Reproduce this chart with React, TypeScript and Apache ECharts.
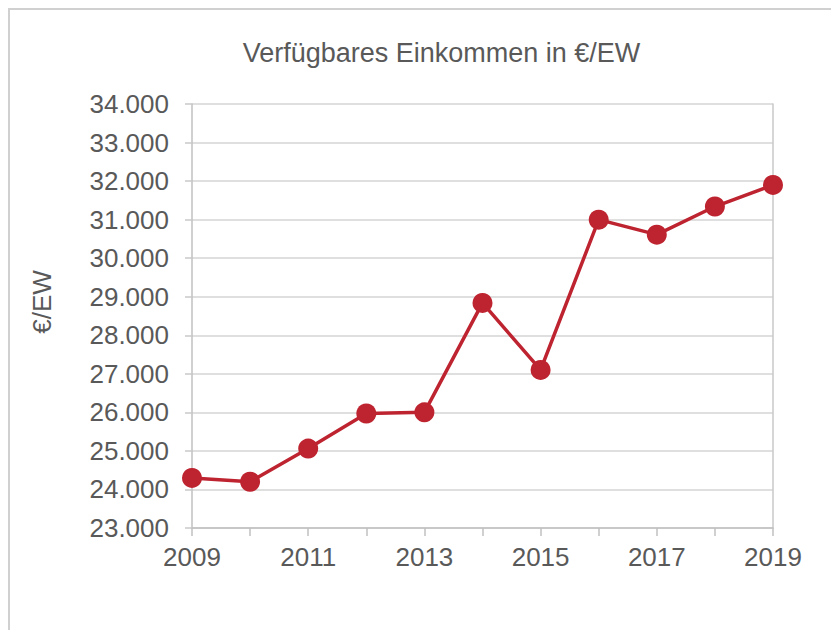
import React, { useEffect, useRef } from "react";
import * as echarts from "echarts";

const years = ["2009", "2010", "2011", "2012", "2013", "2014", "2015", "2016", "2017", "2018", "2019"];
const income = [24300, 24200, 25060, 25970, 26000, 28840, 27100, 31000, 30610, 31340, 31900];
const titleText = "Verfügbares Einkommen in €/EW";
const yName = "€/EW";

const FONT = "'Liberation Sans', Arial, sans-serif";
const TXT = "#595959";

export default function App() {
  const ref = useRef<HTMLDivElement>(null);
  useEffect(() => {
    if (!ref.current) return;
    const chart = echarts.init(ref.current, undefined, { renderer: "svg" });
    chart.setOption({
      animation: false,
      grid: { left: 184, top: 96, width: 581, height: 424 },
      graphic: [
        {
          type: "text",
          x: 433.5,
          y: 45,
          style: {
            text: titleText,
            fill: TXT,
            font: `27px ${FONT}`,
            textAlign: "center",
            textVerticalAlign: "middle",
          },
        },
        {
          type: "text",
          x: 34,
          y: 294,
          rotation: Math.PI / 2,
          style: {
            text: yName,
            fill: TXT,
            font: `26px ${FONT}`,
            textAlign: "center",
            textVerticalAlign: "middle",
          },
        },
      ],
      xAxis: {
        type: "category",
        data: years,
        boundaryGap: false,
        axisLine: { lineStyle: { color: "#c0c0c0", width: 1.5 } },
        axisTick: { show: true, length: 8, interval: 0, lineStyle: { color: "#c0c0c0", width: 1.5 } },
        axisLabel: {
          interval: 1,
          color: TXT,
          fontSize: 26,
          fontFamily: FONT,
          margin: 16,
        },
        splitLine: { show: false },
      },
      yAxis: [
        {
          type: "value",
          min: 23000,
          max: 34000,
          interval: 1000,
          axisLine: { show: true, lineStyle: { color: "#c0c0c0", width: 1.5 } },
          axisTick: { show: true, length: 7, lineStyle: { color: "#c8c8c8", width: 1.5 } },
          axisLabel: {
            color: TXT,
            fontSize: 26,
            fontFamily: FONT,
            margin: 23,
            formatter: (v: number) => (v / 1000).toFixed(3),
          },
          splitLine: { show: true, lineStyle: { color: "#d4d4d4", width: 1.5 } },
        },
        {
          type: "value",
          position: "right",
          min: 23000,
          max: 34000,
          interval: 1000,
          axisLine: { show: true, lineStyle: { color: "#c8c8c8", width: 1.5 } },
          axisTick: { show: false },
          axisLabel: { show: false },
          splitLine: { show: false },
        },
      ],
      series: [
        {
          type: "line",
          data: income,
          yAxisIndex: 0,
          symbol: "circle",
          symbolSize: 20,
          lineStyle: { color: "#BE2330", width: 3.5 },
          itemStyle: { color: "#BE2330" },
        },
      ],
    });
    return () => chart.dispose();
  }, []);
  return (
    <div
      style={{
        width: 831,
        height: 622,
        borderLeft: "2px solid #d0d0d0",
        borderTop: "2px solid #d0d0d0",
        boxSizing: "border-box",
        position: "relative",
      }}
    >
      <div ref={ref} style={{ position: "absolute", left: -2, top: -2, width: 831, height: 622 }} />
    </div>
  );
}
